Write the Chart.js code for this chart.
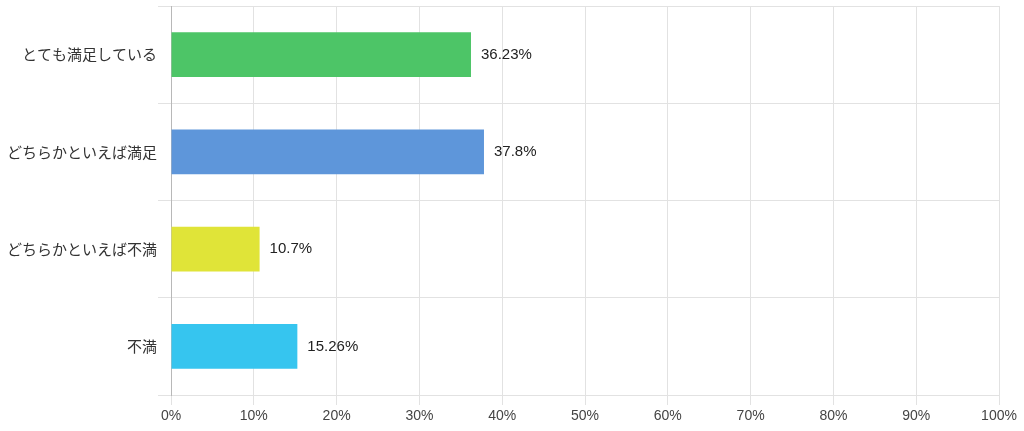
<!DOCTYPE html>
<html>
<head>
<meta charset="utf-8">
<script src="https://cdn.jsdelivr.net/npm/chart.js@4/dist/chart.umd.min.js"></script>
<style>
  html, body { margin: 0; padding: 0; background: #fff; }
  .wrap { width: 1024px; height: 431px; position: relative; }
</style>
</head>
<body>
<div class="wrap"><canvas id="chart"></canvas></div>
<script>
// 満足度アンケート
const categories = ['とても満足している', 'どちらかといえば満足', 'どちらかといえば不満', '不満'];
const values = [36.23, 37.8, 10.7, 15.26];
const barColors = ['#4dc567', '#5e96da', '#e0e438', '#36c5ef'];
const xTicks = [0, 10, 20, 30, 40, 50, 60, 70, 80, 90, 100];

// 棒の右側に値を描く
const valueLabels = {
  id: 'valueLabels',
  afterDatasetsDraw(chart) {
    const ctx = chart.ctx;
    const meta = chart.getDatasetMeta(0);
    ctx.save();
    ctx.font = '15px "Liberation Sans", Arial, sans-serif';
    ctx.fillStyle = '#222';
    ctx.textAlign = 'left';
    ctx.textBaseline = 'middle';
    meta.data.forEach((bar, i) => {
      ctx.fillText(values[i] + '%', bar.x + 10, bar.y);
    });
    ctx.restore();
  }
};

new Chart(document.getElementById('chart'), {
  type: 'bar',
  data: {
    labels: categories,
    datasets: [{
      data: values,
      backgroundColor: barColors,
      borderWidth: 0,
      categoryPercentage: 1,
      barPercentage: 0.46,
    }],
  },
  options: {
    indexAxis: 'y',
    responsive: true,
    maintainAspectRatio: false,
    animation: false,
    layout: { padding: { top: 6, right: 25, bottom: 0, left: 0 } },
    plugins: {
      legend: { display: false },
      tooltip: { enabled: false },
    },
    scales: {
      x: {
        min: 0,
        max: 100,
        afterBuildTicks: (s) => { s.ticks = xTicks.map(v => ({ value: v })); },
        afterFit: (s) => { s.height = 36; },
        grid: { color: '#e2e2e2', tickLength: 10, lineWidth: 1 },
        border: { display: false },
        ticks: {
          callback: (v) => v + '%',
          color: '#444',
          padding: 3,
          maxRotation: 0,
          font: { family: '"Liberation Sans", Arial, sans-serif', size: 14 },
        },
      },
      y: {
        afterFit: (s) => { s.width = 171; s.paddingTop = 0; s.paddingBottom = 0; },
        grid: { color: '#e2e2e2', tickLength: 13, offset: true },
        border: { color: '#b8b8b8', width: 1 },
        ticks: {
          color: '#333',
          padding: 1,
          font: { family: '"Noto Sans CJK JP", sans-serif', size: 15 },
        },
      },
    },
  },
  plugins: [valueLabels],
});
</script>
</body>
</html>
